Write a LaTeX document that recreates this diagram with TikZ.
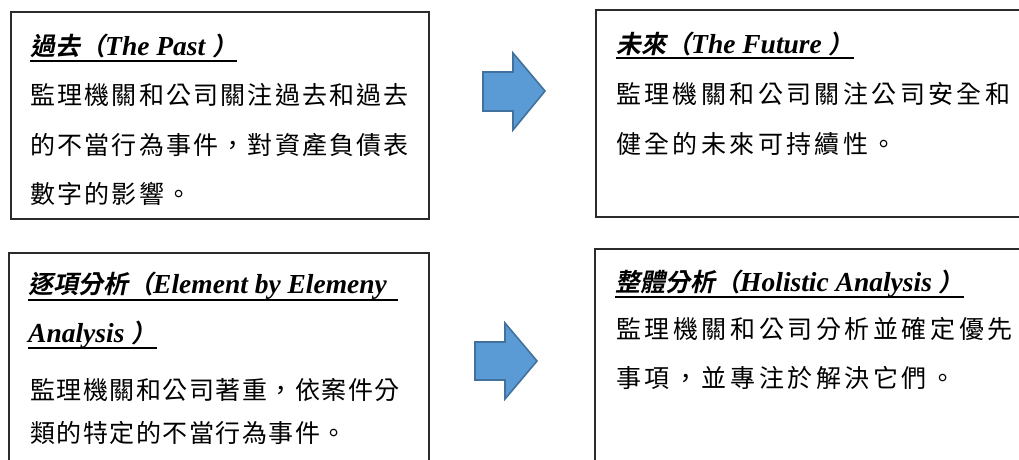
\documentclass[tikz,border=0pt]{standalone}
\usepackage{fontspec}
\newfontfamily\cjkbody{Noto Sans CJK TC}
\newfontfamily\cjkttl[FakeSlant=0.2]{Noto Sans CJK TC Bold}
\newfontfamily\enttl{Liberation Serif}
\definecolor{arrfill}{HTML}{5B9BD5}
\definecolor{arrline}{HTML}{41719C}
\definecolor{boxline}{HTML}{2B2B2B}
\newcommand{\ct}[1]{{\cjkttl #1}}
\newcommand{\et}[1]{{\enttl\bfseries\itshape\fontsize{27.5}{30}\selectfont #1}}
\tikzset{
  box/.style={draw=boxline, line width=1.1pt},
  ttl/.style={anchor=base west, inner sep=0pt, font=\fontsize{25}{30}\selectfont},
  bodyA/.style={anchor=west, inner sep=0pt, font=\fontsize{25}{28}\selectfont\cjkbody\addfontfeature{LetterSpace=#1}},
  ul/.style={line width=2pt, draw=black},
  arrowshape/.style={fill=arrfill, draw=arrline, line width=1.6pt, line join=miter}
}
\begin{document}
\begin{tikzpicture}[x=1pt, y=-1pt]
\useasboundingbox (0,0) rectangle (1019,459);
\clip (0,0) rectangle (1019,459);
% boxes
\draw[box] (11,12) rectangle (429,219);
\draw[box] (596,10) rectangle (1030,217);
\draw[box] (9,253) rectangle (429,470);
\draw[box] (595,249) rectangle (1030,470);
% arrows
\draw[arrowshape] (483,72) -- (513,72) -- (513,53) -- (545,91) -- (513,130) -- (513,111) -- (483,111) -- cycle;
\draw[arrowshape] (475,342) -- (505,342) -- (505,323) -- (537,361) -- (505,399) -- (505,380) -- (475,380) -- cycle;
% box 1
\node[ttl] (t1) at (30,55) {\ct{過去（}\et{The Past }\ct{）}};
\draw[ul] ([yshift=-6pt]t1.base west) -- ([yshift=-6pt]t1.base east);
\node[bodyA=8.8] (b11) at (30,95) {監理機關和公司關注過去和過去};
\node[bodyA=8.8] (b12) at (30,145) {的不當行為事件，對資產負債表};
\node[bodyA=8.8] (b13) at (30,194) {數字的影響。};
% box 2
\node[ttl] (t2) at (616,53) {\ct{未來（}\et{The Future }\ct{）}};
\draw[ul] ([yshift=-5pt]t2.base west) -- ([yshift=-5pt]t2.base east);
\node[bodyA=13.6] (b21) at (616,94) {監理機關和公司關注公司安全和};
\node[bodyA=13.6] (b22) at (616,144) {健全的未來可持續性。};
% box 3
\node[ttl] (t3a) at (28,293) {\ct{逐項分析（}\et{Element by Elemeny\hspace{0.4em}\null}};
\draw[ul] ([yshift=-7pt]t3a.base west) -- ([yshift=-7pt]t3a.base east);
\node[ttl] (t3b) at (28,342) {\et{Analysis }\ct{）}};
\draw[ul] ([yshift=-6pt]t3b.base west) -- ([yshift=-6pt]t3b.base east);
\node[bodyA=6] (b31) at (30,390) {監理機關和公司著重，依案件分};
\node[bodyA=6] (b32) at (30,433) {類的特定的不當行為事件。};
% box 4
\node[ttl] (t4) at (615,291) {\ct{整體分析（}\et{Holistic Analysis }\ct{）}};
\draw[ul] ([yshift=-6pt]t4.base west) -- ([yshift=-6pt]t4.base east);
\node[bodyA=14.3] (b41) at (616,329) {監理機關和公司分析並確定優先};
\node[bodyA=14.3] (b42) at (616,378) {事項，並專注於解決它們。};
\end{tikzpicture}
\end{document}
